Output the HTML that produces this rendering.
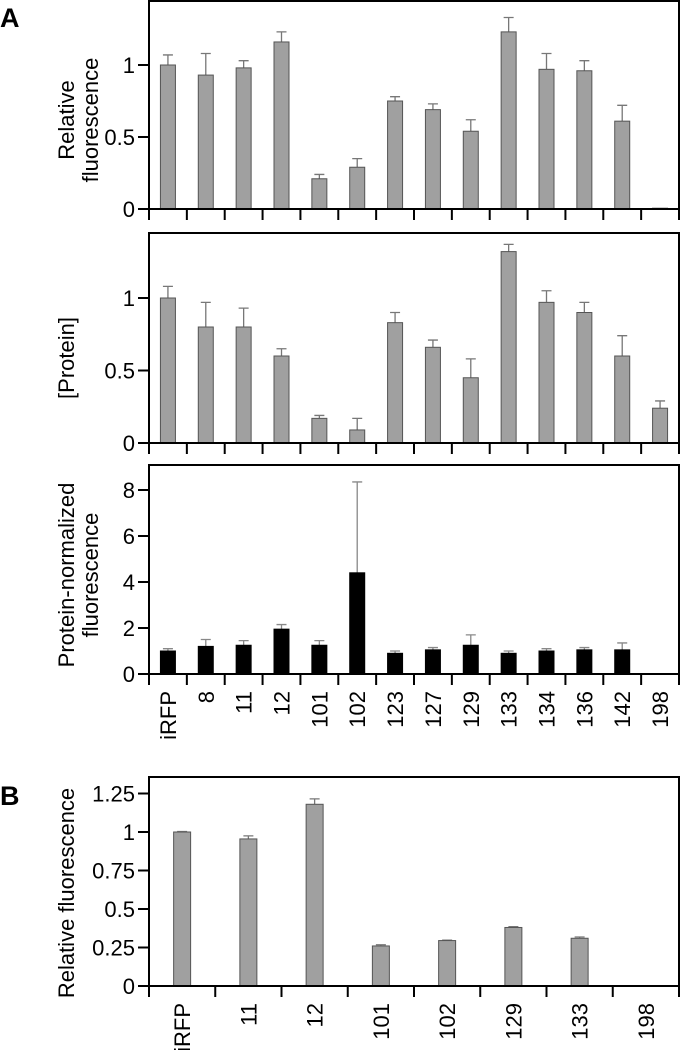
<!DOCTYPE html>
<html><head><meta charset="utf-8"><style>
body{margin:0;background:#fff}
svg{display:block;font-family:"Liberation Sans",Arial,sans-serif}
</style></head><body>
<svg id="fig" width="681" height="1050" viewBox="0 0 681 1050" xmlns="http://www.w3.org/2000/svg">
<text x="0" y="27" font-size="27" font-weight="bold">A</text>
<text x="0" y="805" font-size="27" font-weight="bold">B</text>
<text transform="translate(74,120) rotate(-90)" text-anchor="middle" font-size="22">Relative</text>
<text transform="translate(98,120) rotate(-90)" text-anchor="middle" font-size="22">fluorescence</text>
<text transform="translate(74,358) rotate(-90)" text-anchor="middle" font-size="22">[Protein]</text>
<text transform="translate(74,575) rotate(-90)" text-anchor="middle" font-size="22">Protein-normalized</text>
<text transform="translate(98,575) rotate(-90)" text-anchor="middle" font-size="22">fluorescence</text>
<text transform="translate(74,893) rotate(-90)" text-anchor="middle" font-size="22">Relative fluorescence</text>
</svg>
<script>
const catsA = ["iRFP","8","11","12","101","102","123","127","129","133","134","136","142","198"];
const fluorVals = [1.0,0.93,0.98,1.16,0.21,0.29,0.75,0.69,0.54,1.23,0.97,0.96,0.61,0.005];
const fluorErr = [1.07,1.08,1.03,1.23,0.24,0.35,0.78,0.73,0.62,1.33,1.08,1.03,0.72,0];
const protVals = [1.0,0.8,0.8,0.6,0.17,0.09,0.83,0.66,0.45,1.32,0.97,0.9,0.6,0.24];
const protErr = [1.08,0.97,0.93,0.65,0.19,0.17,0.9,0.71,0.58,1.37,1.05,0.97,0.74,0.29];
const normVals = [1.0,1.2,1.25,1.95,1.25,4.4,0.9,1.05,1.25,0.9,1.0,1.05,1.05,0];
const normErr = [1.1,1.5,1.45,2.15,1.45,8.35,1.0,1.15,1.7,1.0,1.1,1.15,1.35,0];
const ticksFluor = [0,0.5,1];
const ticksProt = [0,0.5,1];
const ticksNorm = [0,2,4,6,8];
const catsB = ["iRFP","11","12","101","102","129","133","198"];
const bVals = [1.0,0.955,1.18,0.26,0.295,0.38,0.31,0];
const bErr = [1.003,0.975,1.215,0.268,0.298,0.385,0.318,0];
const ticksB = [0,0.25,0.5,0.75,1,1.25];

const NS="http://www.w3.org/2000/svg";
const svg=document.getElementById('fig');
function mk(tag,attrs){const e=document.createElementNS(NS,tag);for(const k in attrs)e.setAttribute(k,attrs[k]);svg.appendChild(e);return e;}

function panel(name,cfg){
  const {top,zero,pxPer,cats,vals,errs,ticks,fill,barW,labels}=cfg;
  const L=149,R=679;
  const step=(R-L)/cats.length;
  const x=i=>L+step*(i+0.5);
  const y=v=>zero-v*pxPer;
  const frame=mk('path',{d:`M${L},${zero} L${L},${top} L${R},${top} L${R},${zero}`,fill:'none',stroke:'#000','stroke-width':2});
  
  
  cats.forEach((c,i)=>{
    if(errs[i]>vals[i]){
      const el=mk('path',{d:`M${x(i)},${y(vals[i])} L${x(i)},${y(errs[i])} M${x(i)-5},${y(errs[i])} L${x(i)+5},${y(errs[i])}`,stroke:fill==='#000'?'#888':'#777','stroke-width':1.3,fill:'none'});
      
      
    }
    if(vals[i]>0){
      const h=Math.max(vals[i]*pxPer,0.8);
      const b=mk('rect',{x:x(i)-barW/2,y:zero-h,width:barW,height:h,fill:fill,stroke:fill==='#000'?'#000':'#555','stroke-width':1});
      
      
    }
  });
  const ax=mk('line',{x1:138,y1:zero,x2:R,y2:zero,stroke:'#000','stroke-width':2});
  
  
  for(let i=0;i<=cats.length;i++){
    const t=mk('line',{x1:L+step*i,y1:zero,x2:L+step*i,y2:zero+11,stroke:'#000','stroke-width':2});
    
    
  }
  ticks.forEach(v=>{
    const t=mk('line',{x1:138,y1:y(v),x2:L,y2:y(v),stroke:'#000','stroke-width':2});
    
    
    const tl=mk('text',{x:135,y:y(v)+8,'text-anchor':'end','font-size':22});
    tl.textContent=String(v);
    
    
  });
  if(labels){
    cats.forEach((c,i)=>{
      const t=mk('text',{transform:`translate(${x(i)+8},${zero+17}) rotate(-90)`,'text-anchor':'end','font-size':22});
      t.textContent=c;
      
      
    });
  }
}
panel('fluorescence-chart',{top:1,zero:209,pxPer:144,cats:catsA,vals:fluorVals,errs:fluorErr,ticks:ticksFluor,fill:'#a0a0a0',barW:15,labels:false});
panel('protein-chart',{top:233,zero:443,pxPer:145,cats:catsA,vals:protVals,errs:protErr,ticks:ticksProt,fill:'#a0a0a0',barW:15,labels:false});
panel('normalized-chart',{top:465,zero:674,pxPer:23,cats:catsA,vals:normVals,errs:normErr,ticks:ticksNorm,fill:'#000',barW:15,labels:true});
panel('b-chart',{top:777,zero:986,pxPer:154,cats:catsB,vals:bVals,errs:bErr,ticks:ticksB,fill:'#a0a0a0',barW:17,labels:true});
</script>
</body></html>
